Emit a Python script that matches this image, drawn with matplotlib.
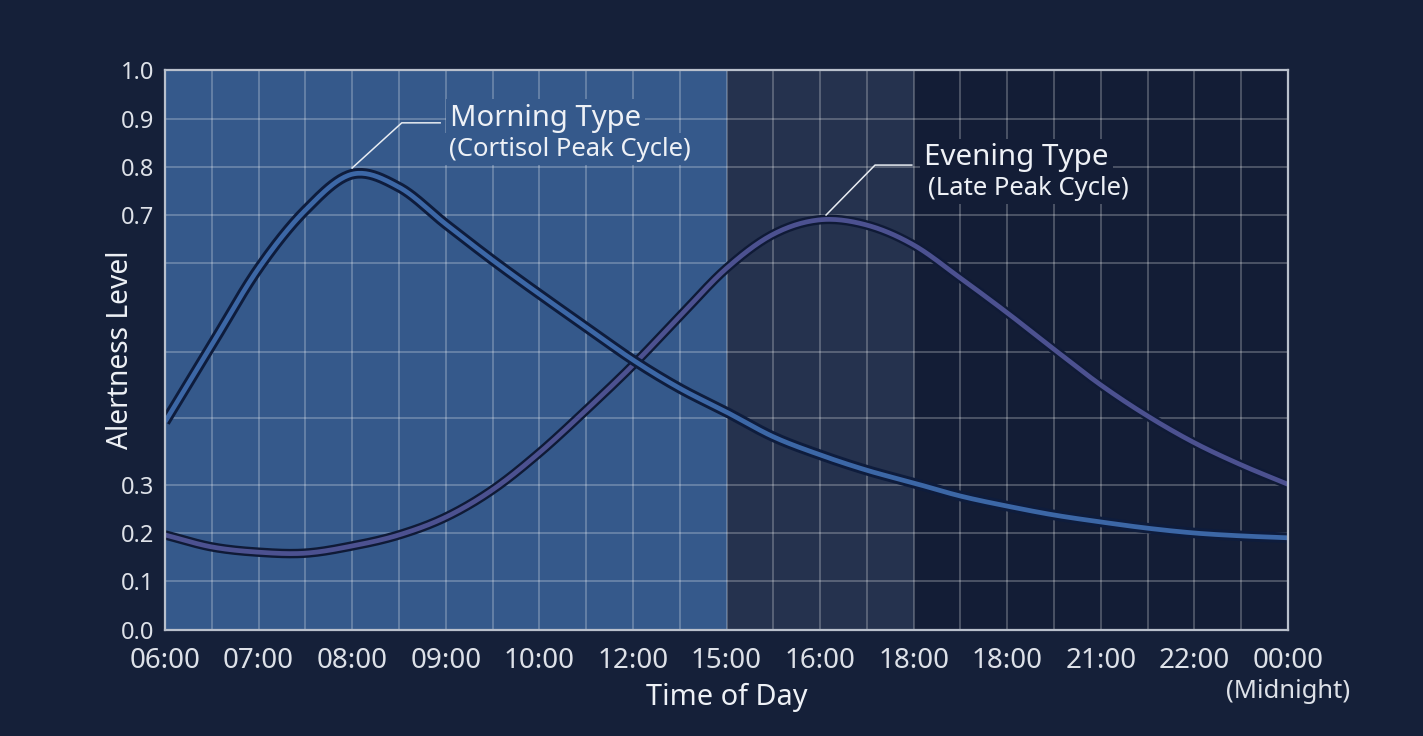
import matplotlib
matplotlib.use("Agg")
import matplotlib.pyplot as plt
import numpy as np

plt.rcParams['font.family'] = ['Noto Sans', 'DejaVu Sans']

# x positions are evenly spaced slots, labelled as in the source chart
time_labels = ["06:00", "07:00", "08:00", "09:00", "10:00", "12:00", "15:00",
               "16:00", "18:00", "18:00", "21:00", "22:00", "00:00"]
slots = np.arange(0, 12.5, 0.5)

morning = [0.394, 0.508, 0.594, 0.710, 0.785, 0.758, 0.681, 0.606, 0.565,
           0.528, 0.488, 0.445, 0.409, 0.372, 0.345, 0.322, 0.303, 0.277,
           0.256, 0.2375, 0.223, 0.210, 0.200, 0.194, 0.190]
evening = [0.196, 0.171, 0.160, 0.158, 0.173, 0.196, 0.233, 0.290, 0.348,
           0.412, 0.480, 0.540, 0.594, 0.660, 0.690, 0.679, 0.6375, 0.583,
           0.544, 0.503, 0.450, 0.403, 0.363, 0.330, 0.301]

# the value axis is not linear: grid values and where they sit (0..1 of height)
y_vals = [0.0, 0.1, 0.2, 0.3, 0.4, 0.5, 0.6, 0.7, 0.8, 0.9, 1.0]
y_pos = np.array([0, 49, 97, 145, 212, 278, 367, 415, 463, 511, 560]) / 560
y_labels = ["0.0", "0.1", "0.2", "0.3", "", "", "", "0.7", "0.8", "0.9", "1.0"]

# shaded periods (slot index ranges)
bands = [(0, 6, "#35598b"), (6, 8, "#25324e"), (8, 12, "#131d36")]


def fwd(v):
    return np.interp(v, y_vals, y_pos)


def inv(p):
    return np.interp(p, y_pos, y_vals)


def smooth(xs, ys, n=24):
    # catmull-rom through the read points, done in screen-like space
    P = np.column_stack([xs, fwd(np.asarray(ys))])
    P = np.vstack([2 * P[0] - P[1], P, 2 * P[-1] - P[-2]])
    t = np.linspace(0, 1, n, endpoint=False)[:, None]
    out = []
    for i in range(1, len(P) - 2):
        p0, p1, p2, p3 = P[i - 1], P[i], P[i + 1], P[i + 2]
        out.append(0.5 * (2 * p1 + (-p0 + p2) * t
                          + (2 * p0 - 5 * p1 + 4 * p2 - p3) * t ** 2
                          + (-p0 + 3 * p1 - 3 * p2 + p3) * t ** 3))
    out.append(P[-2][None, :])
    out = np.vstack(out)
    return out[:, 0], inv(out[:, 1])


bg = "#152039"
txt = "#dde1e8"
fig = plt.figure(figsize=(14.23, 7.36), dpi=100, facecolor=bg)
ax = fig.add_axes([165 / 1423, 106 / 736, 1123 / 1423, 560 / 736])
ax.set_yscale("function", functions=(fwd, inv))

for a, b, c in bands:
    ax.axvspan(a, b, color=c, lw=0, zorder=0.5)

ex, ey = smooth(slots, evening)
ax.plot(ex, ey, color="#0f1a36", lw=6.8, solid_capstyle="butt", zorder=3)
ax.plot(ex, ey, color="#4c5190", lw=3.4, solid_capstyle="butt", zorder=3.1)
mx, my = smooth(slots, morning)
ax.plot(mx, my, color="#0e1c3c", lw=7.6, solid_capstyle="butt", zorder=3.2)
ax.plot(mx, my, color="#3c67a6", lw=3.4, solid_capstyle="butt", zorder=3.3)

ax.set_xlim(0, 12)
ax.set_ylim(0, 1)
ax.set_xticks(range(13))
ax.set_xticklabels(time_labels)
ax.set_xticks(slots, minor=True)
ax.set_yticks(y_vals)
ax.set_yticklabels(y_labels)
ax.yaxis.set_minor_locator(matplotlib.ticker.NullLocator())
ax.grid(True, which="both", color="white", alpha=0.3, lw=1.1)
ax.tick_params(axis="x", which="both", length=0, pad=12, labelsize=20, labelcolor=txt)
ax.tick_params(axis="y", which="both", length=0, pad=8, labelsize=17, labelcolor=txt)
for s in ax.spines.values():
    s.set_color("#b9c0cc")
    s.set_linewidth(1.6)
    s.set_zorder(4)

ax.set_ylabel("Alertness Level", fontsize=20.3, color="#eef1f6")
ax.yaxis.set_label_coords(-0.027, 0.5)
ax.set_xlabel("Time of Day", fontsize=20.8, color="#eef1f6")
ax.xaxis.label.set_va("center")
ax.xaxis.set_label_coords(0.5, -0.121)
ax.text(12, -0.109, "(Midnight)", transform=ax.get_xaxis_transform(),
        ha="center", va="center", fontsize=18.4, color=txt)

# callouts
lc = "#e8ecf2"
ax.plot([2.0, 2.53, 2.94], [0.798, 0.892, 0.892], color=lc, lw=1.1, zorder=3.5)
ax.plot([7.064, 7.587, 7.98], [0.70, 0.804, 0.804], color=lc, lw=1.1, zorder=3.5)
box_blue = dict(boxstyle="square,pad=0.15", fc=bands[0][2], ec="none")
box_dark = dict(boxstyle="square,pad=0.15", fc=bands[2][2], ec="none")
ax.text(3.045, 0.902, "Morning Type", fontsize=21, color="#eef1f6",
        va="center", ha="left", bbox=box_blue, zorder=5)
ax.text(3.03, 0.8375, "(Cortisol Peak Cycle)", fontsize=18.5, color="#eef1f6",
        va="center", ha="left", bbox=box_blue, zorder=5)
ax.text(8.11, 0.819, "Evening Type", fontsize=21.3, color="#eef1f6",
        va="center", ha="left", bbox=box_dark, zorder=5)
ax.text(8.15, 0.756, "(Late Peak Cycle)", fontsize=18.5, color="#eef1f6",
        va="center", ha="left", bbox=box_dark, zorder=5)

fig.savefig("out.png", dpi=100, facecolor=bg)
